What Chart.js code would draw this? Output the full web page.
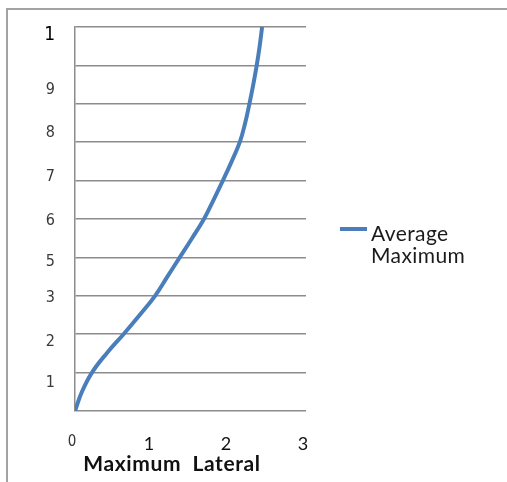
<!DOCTYPE html>
<html>
<head>
<meta charset="utf-8">
<script src="https://cdn.jsdelivr.net/npm/chart.js@4/dist/chart.umd.min.js"></script>
<style>
  html, body { margin: 0; padding: 0; background: #fff; }
  #wrap { position: relative; width: 507px; height: 482px; overflow: hidden; }
  #frame { position: absolute; left: 6px; top: 8px; width: 520px; height: 500px;
           border-top: 2px solid #a3a3a3; border-left: 2px solid #a3a3a3; }
  #c { position: absolute; left: 0; top: 0; }
  #legLine { position: absolute; left: 340px; top: 227px; width: 27px; height: 4px; background: #4a7ebb; }
  #legText { position: absolute; left: 371px; top: 222px; font-family: Lato, "Open Sans", sans-serif;
             font-size: 21px; letter-spacing: 0.4px; line-height: 22px; color: #1a1a1a; }
  #xTitle { position: absolute; left: 0; width: 344px; top: 450px; text-align: center;
            font-family: Lato, "Open Sans", sans-serif; font-weight: bold; font-size: 21px;
            letter-spacing: 0.6px; color: #111; }
</style>
</head>
<body>
<div id="wrap">
  <div id="frame"></div>
  <canvas id="c" width="507" height="482"></canvas>
  <div id="legLine"></div>
  <div id="legText">Average<br>Maximum</div>
  <div id="xTitle">Maximum&nbsp; Lateral</div>
</div>
<script>
// Series: Average Maximum (x = lateral, y = level)
const lateralValues = [0, 0.09, 0.22, 0.41, 0.63, 0.84, 1.04, 1.20, 1.36, 1.52, 1.675, 1.80, 1.92, 2.035, 2.14, 2.21, 2.265, 2.315, 2.36, 2.398, 2.43];
const levelValues   = [0, 0.5, 1.0, 1.5, 2.0, 2.5, 3.0, 3.5, 4.0, 4.5, 5.0, 5.5, 6.0, 6.5, 7.0, 7.5, 8.0, 8.5, 9.0, 9.5, 10];
const seriesName = "Average Maximum";

// Y tick labels as printed in the reference, with the level at which each sits
const yTickLabels = ["1", "9", "8", "7", "6", "5", "3", "2", "1"];
const yTickLevels = [9.8, 8.37, 7.25, 6.1, 4.95, 3.89, 2.95, 1.8, 0.73];

// X tick labels
const xTickLabels = ["0", "1", "2", "3"];

const points = lateralValues.map((x, i) => ({ x: x, y: levelValues[i] }));

new Chart(document.getElementById('c'), {
  type: 'scatter',
  data: {
    datasets: [{
      label: seriesName,
      data: points,
      showLine: true,
      borderColor: '#4a7ebb',
      backgroundColor: '#4a7ebb',
      borderWidth: 4,
      pointRadius: 0,
      tension: 0.4
    }]
  },
  options: {
    responsive: false,
    animation: false,
    layout: { padding: { top: 27, right: 201, left: 0, bottom: 0 } },
    plugins: { legend: { display: false }, tooltip: { enabled: false } },
    scales: {
      x: {
        type: 'linear', min: 0, max: 3,
        grid: { display: false },
        border: { display: false },
        ticks: {
          stepSize: 1,
          padding: 14,
          labelOffset: -3,
          color: (ctx) => ctx.index === 0 ? '#333' : '#111',
          font: (ctx) => ctx.index === 0
            ? { family: '"Liberation Sans Narrow", "DejaVu Sans Condensed", sans-serif', size: 15 }
            : { family: 'Lato, "Open Sans", sans-serif', size: 18 },
          callback: (v, i) => xTickLabels[i] !== undefined ? xTickLabels[i] : ''
        },
        afterFit: (s) => { s.height = 71; }
      },
      yl: {
        type: 'linear', position: 'left', min: 0, max: 10, weight: 1,
        grid: { display: false },
        border: { display: false },
        afterBuildTicks: (s) => { s.ticks = yTickLevels.map(v => ({ value: v })); },
        ticks: {
          padding: 12,
          autoSkip: false,
          color: (ctx) => ctx.index === 0 ? '#000' : '#3a3a3a',
          font: (ctx) => ctx.index === 0
            ? { family: '"Liberation Sans Narrow", "DejaVu Sans Condensed", sans-serif', size: 19 }
            : { family: '"Liberation Sans Narrow", "DejaVu Sans Condensed", sans-serif', size: 16 },
          callback: (v, i) => yTickLabels[i]
        },
        afterFit: (s) => { s.width = 75; }
      },
      y: {
        type: 'linear', position: 'left', min: 0, max: 10, weight: 0,
        grid: { color: '#8c8c8c', lineWidth: 1.5, drawTicks: false },
        border: { display: true, color: '#8c8c8c', width: 1.5 },
        ticks: { display: false, stepSize: 1 },
        afterFit: (s) => { s.width = 0; }
      }
    }
  }
});
</script>
</body>
</html>
